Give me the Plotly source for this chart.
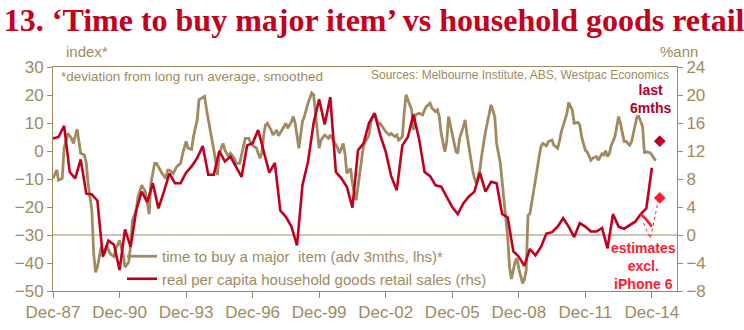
import plotly.graph_objects as go

# ---- data ----
brown_dates = [
    "1987-12","1988-02","1988-03","1988-05","1988-06","1988-08","1988-10","1988-11","1989-01","1989-02",
    "1989-03","1989-05","1989-06","1989-07","1989-09","1989-10","1989-11","1989-12","1990-02","1990-04",
    "1990-05","1990-07","1990-09","1990-10","1990-12","1991-02","1991-03","1991-05","1991-06","1991-07",
    "1991-09","1991-10","1991-11","1991-12","1992-02","1992-03","1992-04","1992-05","1992-07","1992-08",
    "1992-10","1992-11","1993-01","1993-02","1993-03","1993-05","1993-07","1993-09","1993-10","1993-12",
    "1994-01","1994-03","1994-04","1994-06","1994-07","1994-09","1994-10","1994-11","1995-01","1995-02",
    "1995-04","1995-05","1995-06","1995-08","1995-09","1995-11","1995-12","1996-02","1996-03","1996-05",
    "1996-06","1996-08","1996-10","1996-11","1996-12","1997-02","1997-04","1997-05","1997-06","1997-07",
    "1997-08","1997-10","1997-11","1998-01","1998-02","1998-04","1998-06","1998-07","1998-09","1998-10",
    "1998-11","1999-01","1999-03","1999-04","1999-06","1999-08","1999-09","1999-10","1999-12","2000-01",
    "2000-03","2000-05","2000-06","2000-08","2000-10","2000-11","2001-01","2001-02","2001-03","2001-05",
    "2001-06","2001-08","2001-09","2001-11","2001-12","2002-03","2002-04","2002-06","2002-08","2002-09",
    "2002-11","2002-12","2003-02","2003-03","2003-05","2003-06","2003-07","2003-09","2003-10","2003-11",
    "2003-12","2004-02","2004-03","2004-04","2004-06","2004-08","2004-09","2004-10","2004-12","2005-01",
    "2005-03","2005-04","2005-05","2005-06","2005-08","2005-09","2005-10","2005-12","2006-02","2006-03",
    "2006-04","2006-06","2006-07","2006-08","2006-10","2006-11","2006-12","2007-01","2007-03","2007-04",
    "2007-06","2007-08","2007-09","2007-11","2007-12","2008-02","2008-03","2008-04","2008-06","2008-07",
    "2008-08","2008-10","2008-11","2008-12","2009-02","2009-03","2009-04","2009-05","2009-06","2009-07",
    "2009-09","2009-11","2009-12","2010-01","2010-03","2010-04","2010-06","2010-07","2010-09","2010-10",
    "2010-11","2011-01","2011-02","2011-03","2011-05","2011-06","2011-08","2011-09","2011-10","2011-12",
    "2012-01","2012-03","2012-04","2012-06","2012-07","2012-09","2012-10","2012-11","2012-12","2013-01",
    "2013-02","2013-04","2013-05","2013-06","2013-07","2013-09","2013-10","2013-12","2014-01","2014-03",
    "2014-04","2014-05","2014-07","2014-08","2014-09","2014-11","2014-12","2015-02",
]
brown_values = [
    -9.8, -6.8, -10.4, -9.8, 1.0, 6.3, 4.5, 2.7, 7.8, 3.9,
    -0.8, -1.4, -4.4, -11.6, -21.2, -36.7, -43.3, -41.5, -34.3, -36.7,
    -33.7, -36.7, -37.7, -34.9, -31.9, -37.3, -41.5, -39.7, -33.7, -24.8,
    -21.2, -16.4, -14.0, -12.2, -14.6, -18.8, -22.6, -11.6, -4.4, -4.4,
    -6.8, -8.0, -9.8, -6.8, -6.8, -8.0, -5.6, -4.4, -1.4, 3.4,
    1.0, 0.6, 5.1, 11.1, 18.3, 19.1, 19.5, 15.0, 7.5, 3.9,
    -3.3, -8.6, -0.8, 2.7, 0.3, -2.0, -0.8, -2.6, -4.4, -4.4,
    -1.4, 4.5, 4.5, 2.7, 2.1, 1.0, -2.6, -0.8, 5.7, 9.3,
    9.9, 7.5, 5.7, 7.5, 5.4, 7.5, 9.9, 8.1, 10.5, 12.3,
    9.9, 1.0, 10.5, 12.3, 17.1, 20.7, 20.1, 13.5, 1.0, 3.9,
    5.7, 4.5, 5.7, 3.4, 1.0, -0.8, 2.7, -1.4, -8.0, -6.2,
    -11.6, -17.6, -12.8, -4.4, 2.0, 5.7, 10.5, 13.5, 9.3, 9.9,
    8.1, 6.9, 5.7, 6.3, 5.1, 5.7, 3.9, 5.1, 13.5, 20.1,
    18.3, 14.7, 7.5, 12.9, 13.5, 12.9, 14.7, 15.9, 17.1, 15.3,
    14.1, 14.7, 12.3, 6.3, -0.3, 3.4, 12.3, 5.7, -0.3, -0.8,
    4.5, 8.7, 11.1, 5.7, -3.3, -6.8, -9.8, -11.6, -6.8, -1.4,
    6.9, 13.5, 16.5, 12.3, 2.7, -4.4, -11.6, -17.6, -30.7, -41.5,
    -45.7, -39.5, -38.3, -42.0, -47.3, -46.0, -42.7, -23.0, -22.4, -18.8,
    -10.4, -2.0, 1.6, 2.7, 1.8, 3.4, 3.9, 2.1, 1.0, 3.4,
    6.9, 11.1, 13.5, 17.3, 14.7, 9.9, 10.2, 9.3, 5.1, 0.3,
    -0.3, -3.3, -2.6, -2.0, -3.3, -1.0, -1.4, 0.1, -2.0, -0.8,
    2.1, 5.1, 8.7, 12.3, 9.9, 3.4, 3.4, 2.1, 3.4, 8.7,
    12.3, 12.3, 8.7, -0.8, -0.3, -0.6, -1.4, -3.5,
]

red_dates = [
    "1987-12","1988-03","1988-06","1988-09","1988-12","1989-03","1989-06","1989-09","1989-12",
    "1990-03","1990-06","1990-09","1990-12","1991-03","1991-06","1991-09","1991-12",
    "1992-03","1992-06","1992-09","1992-12","1993-03","1993-06","1993-09","1993-12",
    "1994-03","1994-06","1994-09","1994-12","1995-03","1995-06","1995-09","1995-12",
    "1996-03","1996-06","1996-09","1996-12","1997-03","1997-06","1997-09","1997-12",
    "1998-03","1998-06","1998-09","1998-12","1999-03","1999-06","1999-09","1999-12",
    "2000-03","2000-06","2000-09","2000-12","2001-03","2001-06","2001-09","2001-12",
    "2002-03","2002-06","2002-09","2002-12","2003-03","2003-06","2003-09","2003-12",
    "2004-03","2004-06","2004-09","2004-12","2005-03","2005-06","2005-09","2005-12",
    "2006-03","2006-06","2006-09","2006-12","2007-03","2007-06","2007-09","2007-12",
    "2008-03","2008-06","2008-09","2008-12","2009-03","2009-06","2009-09","2009-12",
    "2010-03","2010-06","2010-09","2010-12","2011-03","2011-06","2011-09","2011-12",
    "2012-03","2012-06","2012-09","2012-12","2013-03","2013-06","2013-09","2013-12",
    "2014-03","2014-06","2014-09","2014-12",
]
red_values = [
    13.8, 14.0, 15.6, 9.0, 8.1, 10.8, 5.9, 5.8, 4.9,
    -3.1, -0.8, -1.4, -5.0, 0.8, -1.7, 3.5, 6.2,
    4.7, 7.4, 3.8, 6.2, 8.8, 7.4, 7.4, 8.9,
    9.8, 11.0, 12.7, 8.6, 8.6, 12.0, 10.5, 11.2,
    9.8, 8.3, 12.8, 13.1, 15.0, 11.9, 8.9, 10.3,
    3.5, 2.6, 1.2, -1.5, 7.1, 10.5, 16.0, 19.4,
    15.8, 19.7, 9.0, 8.1, 6.9, 3.9, 12.1, 13.1,
    16.0, 17.4, 14.3, 11.9, 8.4, 6.4, 12.8, 14.0,
    17.2, 13.8, 9.0, 8.4, 7.1, 6.9, 5.4, 4.0,
    3.0, 4.5, 5.5, 6.2, 8.9, 6.2, 7.6, 7.4,
    3.0, 2.5, -2.3, -3.1, -4.4, -2.0, -2.9, -1.7,
    0.2, 0.4, 1.2, 2.4, 1.2, -0.3, 1.7, 1.2,
    0.5, 0.5, 1.0, -1.9, 3.0, 1.2, 0.9, 1.4,
    1.9, 3.0, 3.8, 9.6,
]

est_dates = ["2014-06", "2014-09", "2014-12"]
est_values = [3.0, 2.2, 1.2]

last6_date = ["2015-04-10"]
last6_actual = [13.4]
last6_est = [5.3]

callout_dates = ["2014-07-15", "2014-11-05", "2015-03-15"]
callout_values = [1.7, -0.5, 4.8]

tick_dates = ["1987-12-01","1990-12-01","1993-12-01","1996-12-01","1999-12-01",
              "2002-12-01","2005-12-01","2008-12-01","2011-12-01","2014-12-01"]
tick_labels = ["Dec-87","Dec-90","Dec-93","Dec-96","Dec-99",
               "Dec-02","Dec-05","Dec-08","Dec-11","Dec-14"]

# ---- styles ----
BROWN = "#A08A5F"
DARKRED = "#C0001E"
BRIGHT = "#FF1A2E"
TITLE_RED = "#C4001C"
FONT = "Liberation Sans, Arial, sans-serif"

fig = go.Figure()
fig.add_trace(go.Scatter(x=brown_dates, y=brown_values, mode="lines",
                         line=dict(color=BROWN, width=2.8),
                         name="time to buy a major  item (adv 3mths, lhs)*", yaxis="y"))
fig.add_trace(go.Scatter(x=red_dates, y=red_values, mode="lines",
                         line=dict(color=DARKRED, width=2.6),
                         name="real per capita household goods retail sales (rhs)", yaxis="y2"))
fig.add_trace(go.Scatter(x=est_dates, y=est_values, mode="lines",
                         line=dict(color=BRIGHT, width=2.6), showlegend=False, yaxis="y2"))
fig.add_trace(go.Scatter(x=callout_dates, y=callout_values, mode="lines",
                         line=dict(color=BRIGHT, width=1, dash="dot"), showlegend=False, yaxis="y2"))
fig.add_trace(go.Scatter(x=last6_date, y=last6_actual, mode="markers",
                         marker=dict(symbol="diamond", size=9, color=DARKRED), showlegend=False, yaxis="y2"))
fig.add_trace(go.Scatter(x=last6_date, y=last6_est, mode="markers",
                         marker=dict(symbol="diamond", size=9, color=BRIGHT), showlegend=False, yaxis="y2"))

L, R, T, B = 53, 67, 67, 39
fig.update_layout(
    width=744, height=330,
    margin=dict(l=L, r=R, t=T, b=B, autoexpand=False),
    paper_bgcolor="white", plot_bgcolor="white",
    font=dict(family=FONT, color=BROWN, size=17),
    title=dict(text="<b>13. ‘Time to buy major item’ vs household goods retail</b>",
               font=dict(family="Liberation Serif, Times New Roman, serif", size=32, color=TITLE_RED),
               x=0.005, xanchor="left", xref="container",
               y=1 - 20 / 330, yanchor="middle", yref="container"),
    xaxis=dict(type="date", range=["1987-12-01", "2016-01-19"], automargin=False,
               tickvals=tick_dates, ticktext=tick_labels,
               showline=True, linecolor=BROWN, linewidth=1, mirror=True,
               ticks="outside", ticklen=6, tickcolor=BROWN,
               showgrid=False, zeroline=False,
               tickfont=dict(size=17, color=BROWN)),
    yaxis=dict(range=[-50, 30], dtick=10, showline=True, linecolor=BROWN, linewidth=1,
               automargin=False,
               ticks="outside", ticklen=5, tickcolor=BROWN, showgrid=False, zeroline=False,
               tickfont=dict(size=17, color=BROWN)),
    yaxis2=dict(range=[-8, 24], dtick=4, overlaying="y", side="right",
                showline=True, linecolor=BROWN, linewidth=1, automargin=False,
                ticks="outside", ticklen=5, tickcolor=BROWN, showgrid=False, zeroline=False,
                tickfont=dict(size=17, color=BROWN)),
    showlegend=True,
    legend=dict(x=(122 - L) / 624, y=(291 - 240) / 224, xanchor="left", yanchor="top",
                bgcolor="rgba(0,0,0,0)", font=dict(size=15, color=BROWN),
                itemwidth=30, tracegroupgap=0),
    shapes=[dict(type="line", xref="paper", x0=0, x1=1, yref="y2", y0=0, y1=0,
                 line=dict(color=BROWN, width=1), layer="below")],
)

def px_x(px):
    return (px - L) / 624

def px_y(py):
    return (291 - py) / 224

anns = [
    dict(text="index*", x=px_x(64), y=px_y(52), xanchor="left", yanchor="middle",
         font=dict(size=15, color=BROWN)),
    dict(text="%ann", x=px_x(700), y=px_y(51), xanchor="right", yanchor="middle",
         font=dict(size=15, color=BROWN)),
    dict(text="*deviation from long run average, smoothed", x=px_x(59), y=px_y(76),
         xanchor="left", yanchor="middle", font=dict(size=13.5, color=BROWN)),
    dict(text="Sources: Melbourne Institute, ABS, Westpac Economics", x=px_x(671), y=px_y(75),
         xanchor="right", yanchor="middle", font=dict(size=12, color=BROWN)),
    dict(text="<b>last<br>6mths</b>", x=px_x(650), y=px_y(99), xanchor="center", yanchor="middle",
         font=dict(size=14, color="#B0002A")),
    dict(text="<b>estimates<br>excl.<br>iPhone 6</b>", x=px_x(643), y=px_y(266),
         xanchor="center", yanchor="middle", font=dict(size=14, color=BRIGHT)),
]
for a in anns:
    a.update(xref="paper", yref="paper", showarrow=False)
fig.update_layout(annotations=anns)

fig.write_html("out.html")
